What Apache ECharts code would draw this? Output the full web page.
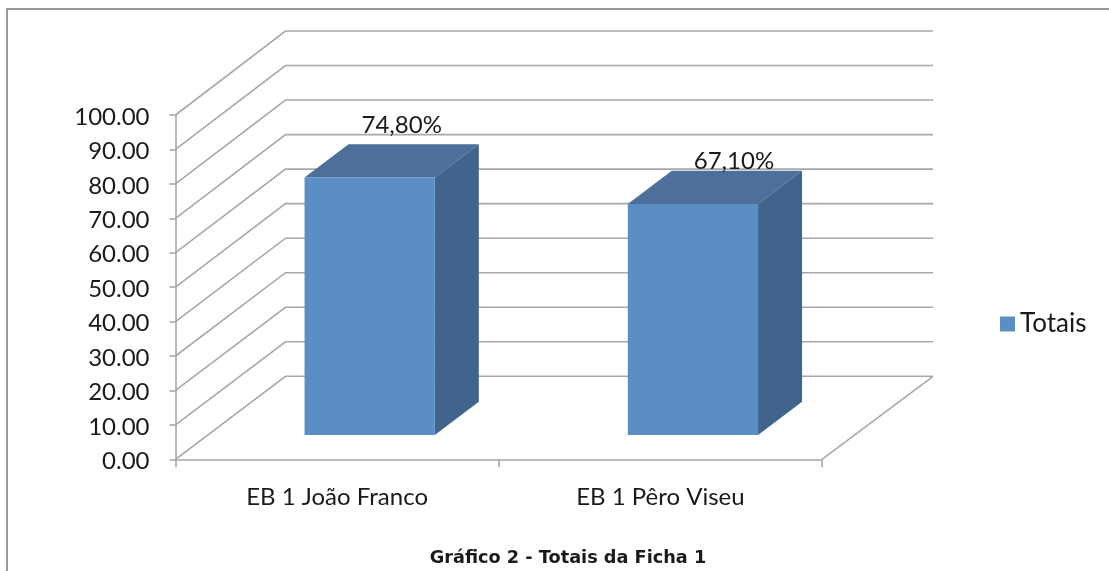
<!DOCTYPE html>
<html>
<head>
<meta charset="utf-8">
<style>html,body{margin:0;padding:0;background:#fff}#c{width:1109px;height:571px}</style>
<script src="https://cdn.jsdelivr.net/npm/echarts@6/dist/echarts.min.js"></script>
</head>
<body>
<div id="c"></div>
<script>
const categories = ['EB 1 João Franco', 'EB 1 Pêro Viseu'];
const totais = [74.8, 67.1];
const yTicks = [0, 10, 20, 30, 40, 50, 60, 70, 80, 90, 100];

const FONT = 'Lato';
const GRID = '#a8a8a8';
const DEPTH_X = 110, DEPTH_Y = 83;
const BAR_OFFSET = 0.296, BAR_DEPTH = 0.4, BAR_WIDTH = 0.403;
const LABEL_LIFT = [52, 43];
const LABEL_SHIFT = [32, 41];

const chart = echarts.init(document.getElementById('c'), null, {renderer: 'canvas'});

function renderWall(params, api) {
  const cs = params.coordSys;
  const v = api.value(0);
  const y = api.coord([0, v])[1];
  const x0 = cs.x, x1 = cs.x + cs.width;
  const children = [{
    type: 'polyline',
    shape: {points: [[x0, y], [x0 + DEPTH_X, y - DEPTH_Y - (v / 100)], [x1 + DEPTH_X + 1, y - DEPTH_Y - (v / 100)]]},
    style: {stroke: GRID, lineWidth: 1.6, fill: null}
  }];
  if (v === 0) {
    children.push({
      type: 'line',
      shape: {x1: x1, y1: y, x2: x1 + DEPTH_X + 1, y2: y - DEPTH_Y},
      style: {stroke: GRID, lineWidth: 1.6}
    });
  }
  return {type: 'group', children};
}

function renderBar(params, api) {
  const i = api.value(0);
  const v = api.value(1);
  const top = api.coord([i, v]);
  const base = api.coord([i, 0]);
  const band = api.size([1, 0])[0];
  const w = band * BAR_WIDTH;
  const ox = DEPTH_X * BAR_OFFSET, oy = DEPTH_Y * 0.293;
  const dx = DEPTH_X * BAR_DEPTH, dy = DEPTH_Y * BAR_DEPTH;
  const l = top[0] + ox - w / 2, r = l + w;
  const t = top[1] - oy, b = base[1] - oy;
  return {type: 'group', children: [
    {type: 'polygon', shape: {points: [[l, t], [r, t], [r + dx, t - dy], [l + dx, t - dy]]},
      style: {fill: '#4c6f9b'}},
    {type: 'polygon', shape: {points: [[r, t], [r + dx, t - dy], [r + dx, b - dy], [r, b]]},
      style: {fill: '#41648d'}},
    {type: 'rect', shape: {x: l, y: t, width: w, height: b - t},
      style: {fill: '#5b8fc4'}},
    {type: 'text', z2: 10, style: {
      x: l + w / 2 + LABEL_SHIFT[i], y: t - LABEL_LIFT[i],
      text: v.toFixed(2).replace('.', ',') + '%',
      align: 'center', verticalAlign: 'middle',
      font: '24px ' + FONT, fill: '#1a1a1a'
    }}
  ]};
}

chart.setOption({
  animation: false,
  backgroundColor: '#fff',
  title: {
    text: 'Gráfico 2 - Totais da Ficha 1',
    left: 563, top: 544, textAlign: 'center',
    textStyle: {fontFamily: 'DejaVu Sans', fontWeight: 'bold', fontSize: 17.7, color: '#1a1a1a'}
  },
  legend: {
    left: 995, top: 306, icon: 'rect', itemWidth: 15, itemHeight: 15, itemGap: 5,
    textStyle: {fontFamily: FONT, fontSize: 26, color: '#1a1a1a'},
    data: [{name: 'Totais', itemStyle: {color: '#5b8fc4'}}]
  },
  grid: {left: 175.5, top: 115, width: 646.5, height: 344.3, containLabel: false},
  xAxis: {
    type: 'category', data: categories,
    axisLine: {lineStyle: {color: GRID, width: 1.6}},
    axisTick: {show: true, length: 8, alignWithLabel: false, lineStyle: {color: GRID, width: 1.6}},
    axisLabel: {fontFamily: FONT, fontSize: 24, color: '#1a1a1a', margin: 26}
  },
  yAxis: {
    type: 'value', min: 0, max: 100, interval: 10,
    axisLine: {show: true, lineStyle: {color: GRID, width: 1.6}},
    axisTick: {show: true, length: 6, lineStyle: {color: GRID, width: 1.6}},
    splitLine: {show: false},
    axisLabel: {
      fontFamily: FONT, fontSize: 24, color: '#1a1a1a', margin: 26,
      verticalAlign: 'top', lineHeight: 4,
      formatter: v => v.toFixed(2)
    }
  },
  graphic: [{
    type: 'polyline', silent: true, z: -1,
    shape: {points: [[7, 571], [7, 9], [1109, 9]]},
    style: {stroke: '#999', lineWidth: 2, fill: null}
  }],
  series: [
    {
      type: 'custom', name: 'wall', z: 1, silent: true, clip: false,
      coordinateSystem: 'cartesian2d',
      renderItem: renderWall,
      encode: {y: 0},
      data: yTicks.map(v => [v])
    },
    {
      type: 'custom', name: 'Totais', z: 3, clip: false,
      coordinateSystem: 'cartesian2d',
      renderItem: renderBar,
      itemStyle: {color: '#5b8fc4'},
      encode: {x: 0, y: 1},
      data: totais.map((v, i) => [i, v])
    }
  ]
});
</script>
</body>
</html>
